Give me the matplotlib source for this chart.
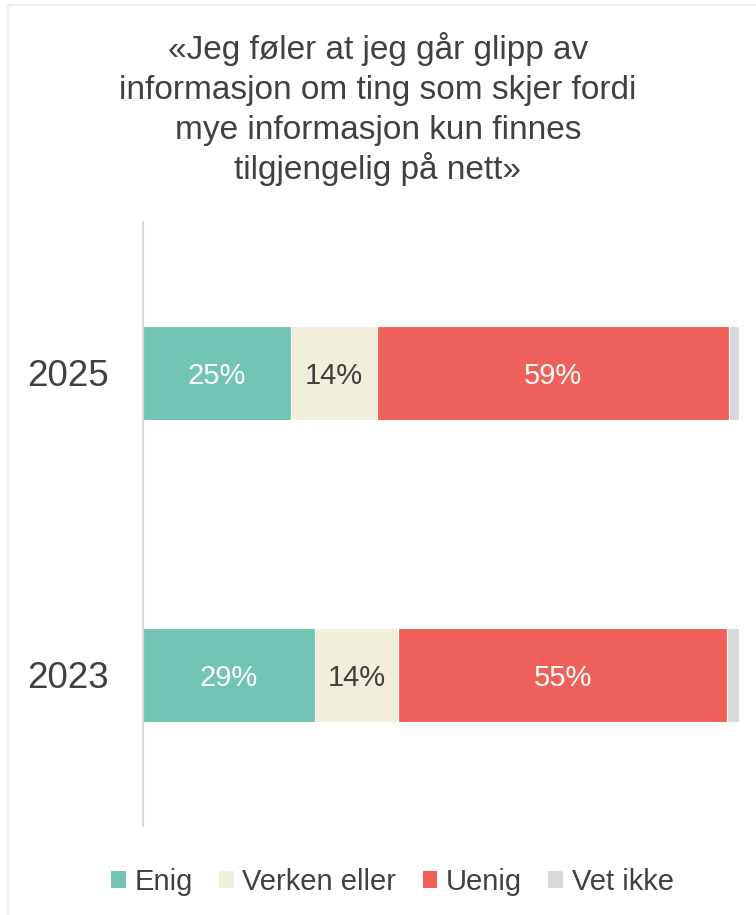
import matplotlib.pyplot as plt
from matplotlib.lines import Line2D
from matplotlib.patches import Patch

# data
years = ["2023", "2025"]
categories = ["Enig", "Verken eller", "Uenig", "Vet ikke"]
enig = [28.9, 24.8]
verken = [13.9, 14.4]
uenig = [55.2, 59.1]
vet_ikke = [2.0, 1.7]
colors = ["#72C4B4", "#F2EEDC", "#F0605A", "#D9D9D9"]
label_colors = ["white", "#404040", "white", None]

title_lines = ["«Jeg føler at jeg går glipp av",
               "informasjon om ting som skjer fordi",
               "mye informasjon kun finnes",
               "tilgjengelig på nett»"]

plt.rcParams['font.family'] = ['Liberation Sans', 'DejaVu Sans']
text_col = "#404040"

fig = plt.figure(figsize=(7.56, 9.15), dpi=100)
ax = fig.add_axes([143 / 756, 1 - 826 / 915, (739 - 143) / 756, (826 - 222) / 915])

series = [enig, verken, uenig, vet_ikke]
left = [0, 0]
for vals, col, lcol in zip(series, colors, label_colors):
    bars = ax.barh(years, vals, left=left, height=0.31, color=col,
                   edgecolor="white", linewidth=0.8)
    if lcol is not None:
        for b, v in zip(bars, vals):
            ax.text(b.get_x() + b.get_width() / 2, b.get_y() + b.get_height() / 2 - 0.01,
                    "{:.0f}%".format(v), ha="center", va="center",
                    fontsize=21, color=lcol)
    left = [l + v for l, v in zip(left, vals)]

ax.set_xlim(0, 100)
ax.set_ylim(-0.5, 1.5)
ax.set_xticks([])
for s in ["top", "right", "bottom"]:
    ax.spines[s].set_visible(False)
ax.spines["left"].set_color("#D9D9D9")
ax.spines["left"].set_linewidth(1.5)
ax.tick_params(axis="y", length=0, pad=25, labelsize=26.5, labelcolor=text_col)

# title, one line at a time so the spacing is even
for i, line in enumerate(title_lines):
    fig.text(0.5, 1 - (59 + 40 * i) / 915, line, ha="center", va="baseline",
             fontsize=24, color=text_col)

handles = [Patch(facecolor=c, edgecolor="none") for c in colors]
fig.legend(handles, categories, loc="center", bbox_to_anchor=(0.519, 1 - 882 / 915),
           ncol=4, frameon=False, fontsize=21, handlelength=0.5, handleheight=0.5,
           handletextpad=0.3, columnspacing=0.9, labelcolor=text_col)

# light frame on top and left edge
fig.add_artist(Line2D([8 / 756, 1], [1 - 5 / 915, 1 - 5 / 915], color="#EFEFEF",
                      linewidth=1.5, transform=fig.transFigure))
fig.add_artist(Line2D([8 / 756, 8 / 756], [0, 1 - 5 / 915], color="#EFEFEF",
                      linewidth=1.5, transform=fig.transFigure))

fig.savefig("out.png", dpi=100)
